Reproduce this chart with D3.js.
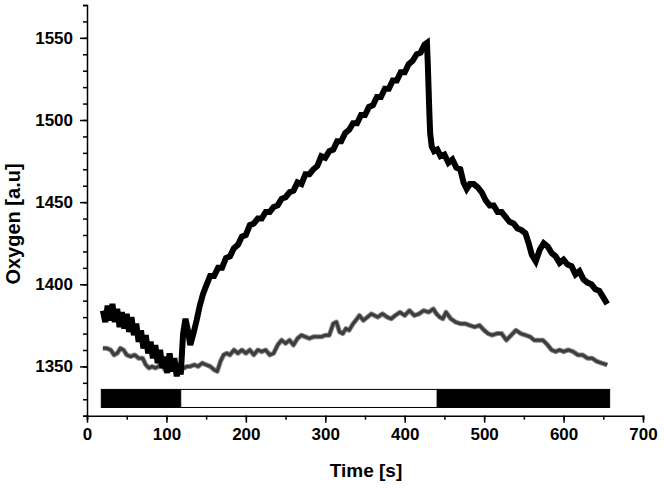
<!DOCTYPE html>
<html>
<head>
<meta charset="utf-8">
<script src="https://cdn.jsdelivr.net/npm/d3@7"></script>
<style>
  html, body { margin: 0; padding: 0; background: #fff; }
  svg { display: block; }
  text { font-family: "Liberation Sans", Arial, sans-serif; font-weight: bold; fill: #000; }
</style>
</head>
<body>
<svg id="chart" width="664" height="488"></svg>
<script>
// ---- data ----
const xTicks = [0, 100, 200, 300, 400, 500, 600, 700];
const yTicks = [1350, 1400, 1450, 1500, 1550];
const xTitle = "Time [s]";
const yTitle = "Oxygen [a.u]";

// black series: time [s]
const blackT = [20,23,26,29,32,35,38,41,44,47,50,53,56,59,62,65,68,71,74,77,80,83,86,89,92,95,98,101,104,107,110,113,116,118,
  121,124,127,130,134,138,142,146,150,155,160,165,170,175,180,185,190,195,200,205,210,215,220,225,230,235,240,245,250,255,260,265,270,275,280,285,290,295,300,305,310,315,320,325,330,335,340,345,350,355,360,365,370,375,380,385,390,395,400,405,410,415,420,425,428,
  429,430,431,432,434,437,441,445,450,455,460,465,470,474,478,482,487,492,497,502,507,512,517,522,527,532,537,542,547,552,556,560,565,570,575,580,585,590,595,600,605,610,615,620,625,630,635,640,645,650,655];
// black series: oxygen [a.u]
const blackV = [1384,1377,1387,1378,1388,1377,1385,1374,1383,1373,1382,1371,1380,1369,1376,1365,1372,1361,1369,1358,1365,1355,1363,1352,1360,1349,1356,1346,1358,1347,1355,1344,1352,1345,
  1370,1379,1372,1363,1370,1378,1387,1394,1399,1405,1405,1410,1410,1416,1417,1422,1424,1429,1430,1436,1437,1440,1440,1444,1444,1447,1448,1452,1453,1456,1457,1462,1461,1467,1467,1470,1472,1478,1477,1481,1482,1487,1487,1492,1494,1498,1498,1503,1503,1508,1509,1514,1514,1519,1519,1524,1524,1529,1529,1534,1536,1540,1541,1546,1547,
  1535,1520,1505,1492,1484,1481,1482,1478,1479,1474,1476,1471,1470,1462,1458,1461,1461,1459,1456,1451,1448,1448,1444,1444,1441,1438,1437,1434,1433,1431,1425,1418,1414,1421,1425,1423,1419,1417,1413,1415,1412,1411,1406,1408,1403,1401,1400,1397,1396,1392,1388];

// gray series: time [s]
const grayT = [20,25,30,34,38,42,46,50,55,60,65,70,74,78,82,86,90,94,98,102,106,110,114,118,122,126,130,135,140,145,150,155,160,164,168,172,176,180,185,190,195,200,205,210,215,220,225,230,235,240,245,250,255,260,265,270,275,280,285,290,295,300,305,310,314,318,322,326,330,335,340,343,348,353,358,362,366,372,378,383,388,394,400,406,412,418,424,430,436,440,444,448,452,458,464,470,476,482,488,494,500,505,510,516,522,528,534,540,546,552,558,563,568,574,580,585,590,595,600,606,612,618,624,630,636,642,648,655];
// gray series: oxygen [a.u]
const grayV = [1361,1361,1360,1357,1358,1361,1360,1357,1356,1357,1355,1355,1351,1349,1350,1349,1350,1352,1348,1350,1352,1349,1350,1348,1349,1350,1350,1351,1350,1352,1351,1350,1348,1347,1353,1357,1358,1357,1360,1358,1360,1358,1360,1357,1360,1359,1360,1357,1358,1363,1366,1364,1366,1363,1367,1369,1368,1367,1368,1368,1368,1369,1369,1376,1377,1371,1370,1373,1372,1376,1379,1381,1378,1380,1382,1381,1380,1382,1380,1379,1381,1383,1381,1384,1381,1382,1384,1383,1385,1382,1380,1379,1383,1379,1377,1376,1376,1375,1374,1375,1372,1370,1369,1370,1370,1366,1369,1372,1370,1369,1368,1366,1366,1366,1363,1360,1359,1360,1359,1360,1359,1357,1357,1355,1355,1353,1352,1351];

// light/dark period bar: segment boundaries [s] and state
const barStart = [18, 118, 441];
const barEnd   = [118, 441, 658];
const barDark  = [true, false, true];
const barLow = 1325, barHigh = 1336;

// ---- layout ----
const svg = d3.select("#chart");
const x = d3.scaleLinear().domain([0, 700]).range([87, 643]);
const y = d3.scaleLinear().domain([1320, 1570]).range([415.7, 5]);

// bar
const bars = barStart.map((s, i) => ({ s, e: barEnd[i], dark: barDark[i] }));
svg.append("g").selectAll("rect").data(bars).join("rect")
  .attr("x", d => x(d.s)).attr("width", d => x(d.e) - x(d.s))
  .attr("y", y(barHigh)).attr("height", y(barLow) - y(barHigh))
  .attr("fill", d => d.dark ? "#000" : "#fff")
  .attr("stroke", "#000").attr("stroke-width", 1);

const line = d3.line().x(d => x(d[0])).y(d => y(d[1]));
const grayData = grayT.map((t, i) => [t, grayV[i]]);
const blackData = blackT.map((t, i) => [t, blackV[i]]);

svg.append("path").datum(grayData).attr("d", line)
  .attr("fill", "none").attr("stroke", "#8a8a8a").attr("stroke-width", 5).attr("stroke-linejoin", "round");
svg.append("path").datum(grayData).attr("d", line)
  .attr("fill", "none").attr("stroke", "#3c3c3c").attr("stroke-width", 3).attr("stroke-linejoin", "round");

svg.append("path").datum(blackData).attr("d", line)
  .attr("fill", "none").attr("stroke", "#000").attr("stroke-width", 6).attr("stroke-linejoin", "miter").attr("stroke-miterlimit", 3);

// axes
const xAxis = svg.append("g").attr("transform", `translate(0,${y(1320)})`);
xAxis.call(d3.axisBottom(x).tickValues(d3.range(0, 701, 50)).tickSize(4).tickFormat(""));
const xMajor = svg.append("g").attr("transform", `translate(0,${y(1320)})`)
  .call(d3.axisBottom(x).tickValues(xTicks).tickSize(7).tickPadding(5).tickFormat(d3.format("d")));
xMajor.select(".domain").remove();
xMajor.selectAll("text").attr("font-size", 17).attr("font-family", "Liberation Sans, Arial, sans-serif").attr("font-weight", "bold").attr("fill", "#000");

const yAxis = svg.append("g").attr("transform", `translate(${x(0)},0)`);
yAxis.call(d3.axisLeft(y).tickValues(d3.range(1320, 1571, 10)).tickSize(4).tickFormat(""));
const yMajor = svg.append("g").attr("transform", `translate(${x(0)},0)`)
  .call(d3.axisLeft(y).tickValues(yTicks).tickSize(7).tickPadding(7).tickFormat(d3.format("d")));
yMajor.select(".domain").remove();
yMajor.selectAll("text").attr("font-size", 17).attr("font-family", "Liberation Sans, Arial, sans-serif").attr("font-weight", "bold").attr("fill", "#000");

svg.selectAll(".domain, .tick line").attr("stroke", "#000").attr("stroke-width", 1.5);

// titles
svg.append("text").attr("x", 366).attr("y", 477).attr("text-anchor", "middle")
  .attr("font-size", 19).text(xTitle);
svg.append("text").attr("transform", "translate(20,224) rotate(-90)").attr("text-anchor", "middle")
  .attr("font-size", 20).text(yTitle);
</script>
</body>
</html>
